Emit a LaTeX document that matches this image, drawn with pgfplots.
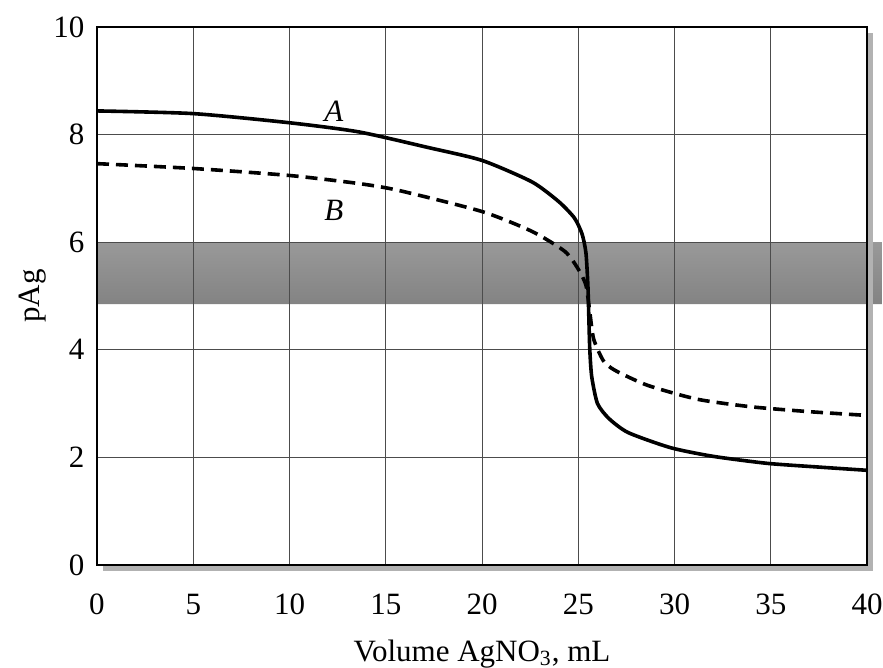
\documentclass[border=0pt]{standalone}
\usepackage{fontspec}
\setmainfont{Liberation Serif}
\usepackage{pgfplots}
\pgfplotsset{compat=1.18}
\usetikzlibrary{calc}

\begin{document}
\fontsize{15.5}{18}\selectfont
\begin{tikzpicture}
\begin{axis}[
  set layers=standard,
  clip=false,
  scale only axis,
  width=385pt, height=269pt,
  xmin=0, xmax=40, ymin=0, ymax=10,
  xtick={0,5,...,40}, ytick={0,2,...,10},
  major tick length=0pt,
  grid=major, grid style={black!70, line width=0.5pt},
  axis line style={line width=1.3pt},
  /pgf/number format/assume math mode=true,
  tick label style={font=\fontsize{15.5}{18}\selectfont},
  xticklabel style={yshift=-9pt},
  yticklabel style={xshift=-1pt},
  xlabel={Volume AgNO\textsubscript{3}, mL},
  ylabel={pAg},
  label style={font=\fontsize{15.5}{18}\selectfont},
  xlabel style={yshift=-2pt},
  ylabel style={yshift=-7pt},
]
% dark scan band across the plot
\addplot[draw=none, top color=black!40, bottom color=black!85, on layer=axis background]
  coordinates {(0,4.85)(40.8,4.85)(40.8,6.0)(0,6.0)} \closedcycle;

% curve A (solid)
\addplot[black, line width=1.8pt, smooth, tension=0.4] coordinates {
  (0,8.44)(5,8.39)(10,8.22)(13.6,8.05)(17.2,7.76)(20,7.52)(22.6,7.12)
  (24.0,6.75)(24.8,6.45)(25.2,6.15)(25.4,5.8)(25.5,5.2)(25.55,4.6)
  (25.6,4.0)(25.7,3.5)(26.0,3.0)(26.6,2.72)(27.6,2.46)(29.8,2.18)
  (32,2.02)(34.8,1.89)(37.5,1.82)(40,1.76)};
% curve B (dashed)
\addplot[black, line width=1.8pt, dash pattern=on 6pt off 3.5pt, smooth, tension=0.4] coordinates {
  (0,7.46)(5,7.37)(10,7.24)(13.6,7.09)(15.7,6.96)(20,6.57)(22.6,6.2)
  (24.3,5.83)(25.0,5.5)(25.4,5.2)(25.6,4.7)(25.8,4.2)(26.3,3.8)
  (26.9,3.62)(28.6,3.34)(31.2,3.08)(34,2.94)(37,2.85)(40,2.78)};

\node[font=\itshape] at (axis cs:12.3,8.44) {A};
\node[font=\itshape] at (axis cs:12.3,6.59) {B};
\end{axis}
% soft shadow along right and bottom edges
\fill[black!30] ($(current axis.north east)+(0.7pt,-3pt)$) rectangle ($(current axis.south east)+(3pt,-3pt)$);
\fill[black!30] ($(current axis.south west)+(3pt,-0.7pt)$) rectangle ($(current axis.south east)+(3pt,-3pt)$);
\pgfresetboundingbox
\path ($(current axis.south west)+(-48.5pt,-51.5pt)$) rectangle ($(current axis.north east)+(8pt,13.5pt)$);
\end{tikzpicture}
\end{document}
